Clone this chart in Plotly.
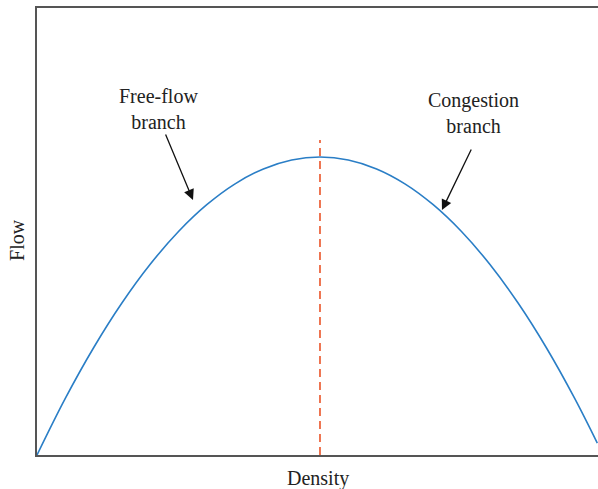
import plotly.graph_objects as go

# Values (density normalized to jam density, flow to capacity)
density = [0.00, 0.05, 0.10, 0.15, 0.20, 0.25, 0.30, 0.35, 0.40, 0.45, 0.50,
           0.55, 0.60, 0.65, 0.70, 0.75, 0.80, 0.85, 0.90, 0.95, 0.99]
flow = [0.00, 0.19, 0.36, 0.51, 0.64, 0.75, 0.84, 0.91, 0.96, 0.99, 1.00,
        0.99, 0.96, 0.91, 0.84, 0.75, 0.64, 0.51, 0.36, 0.19, 0.04]

critical_density = [0.5, 0.5]
critical_line_flow = [0.0, 1.057]

labels = ["Free-flow<br>branch", "Congestion<br>branch"]
label_x = [0.214, 0.772]
label_y = [1.161, 1.148]
arrow_x = [0.2756, 0.7155]
arrow_y = [0.856, 0.822]
arrow_ax = [-28, 30]
arrow_ay = [-67, -62]

FONT = "Liberation Serif, Times New Roman, serif"

fig = go.Figure()
fig.add_trace(go.Scatter(x=density, y=flow, mode="lines",
                         line=dict(color="#2a7ec6", width=1.6, shape="spline"),
                         showlegend=False, hoverinfo="skip"))
fig.add_trace(go.Scatter(x=critical_density, y=critical_line_flow, mode="lines",
                         line=dict(color="#ea5428", width=1.6, dash="8px,5px"),
                         showlegend=False, hoverinfo="skip"))

annotations = []
for t, x, y in zip(labels, label_x, label_y):
    annotations.append(dict(x=x, y=y, xref="x", yref="y", text=t, showarrow=False,
                            font=dict(family=FONT, size=20, color="#222222"),
                            xanchor="center", yanchor="middle", align="center"))
for x, y, ax, ay in zip(arrow_x, arrow_y, arrow_ax, arrow_ay):
    annotations.append(dict(x=x, y=y, xref="x", yref="y", text="", showarrow=True,
                            ax=ax, ay=ay, arrowhead=2, arrowsize=1.6, arrowwidth=1.3,
                            arrowcolor="#111111"))
annotations.append(dict(x=0.5, y=0, xref="paper", yref="paper", text="Density",
                        showarrow=False, xanchor="center", yanchor="top", yshift=-10,
                        font=dict(family=FONT, size=20, color="#222222")))
annotations.append(dict(x=0, y=0.481, xref="paper", yref="paper", text="Flow",
                        showarrow=False, xanchor="center", yanchor="middle", xshift=-20,
                        textangle=-90, font=dict(family=FONT, size=20, color="#222222")))

fig.update_layout(
    width=598, height=489,
    margin=dict(l=37, r=0, t=8, b=34),
    paper_bgcolor="white", plot_bgcolor="white",
    xaxis=dict(range=[0, 0.9912], showgrid=False, zeroline=False, showticklabels=False,
               ticks="", showline=True, linecolor="#555555", linewidth=1.6, mirror=True),
    yaxis=dict(range=[0, 1.5], showgrid=False, zeroline=False, showticklabels=False,
               ticks="", showline=True, linecolor="#555555", linewidth=1.6, mirror=False),
    annotations=annotations,
)

fig.write_html("out.html", config={"displayModeBar": False},
               post_script="document.body.style.margin='0';document.body.style.overflow='hidden';")
